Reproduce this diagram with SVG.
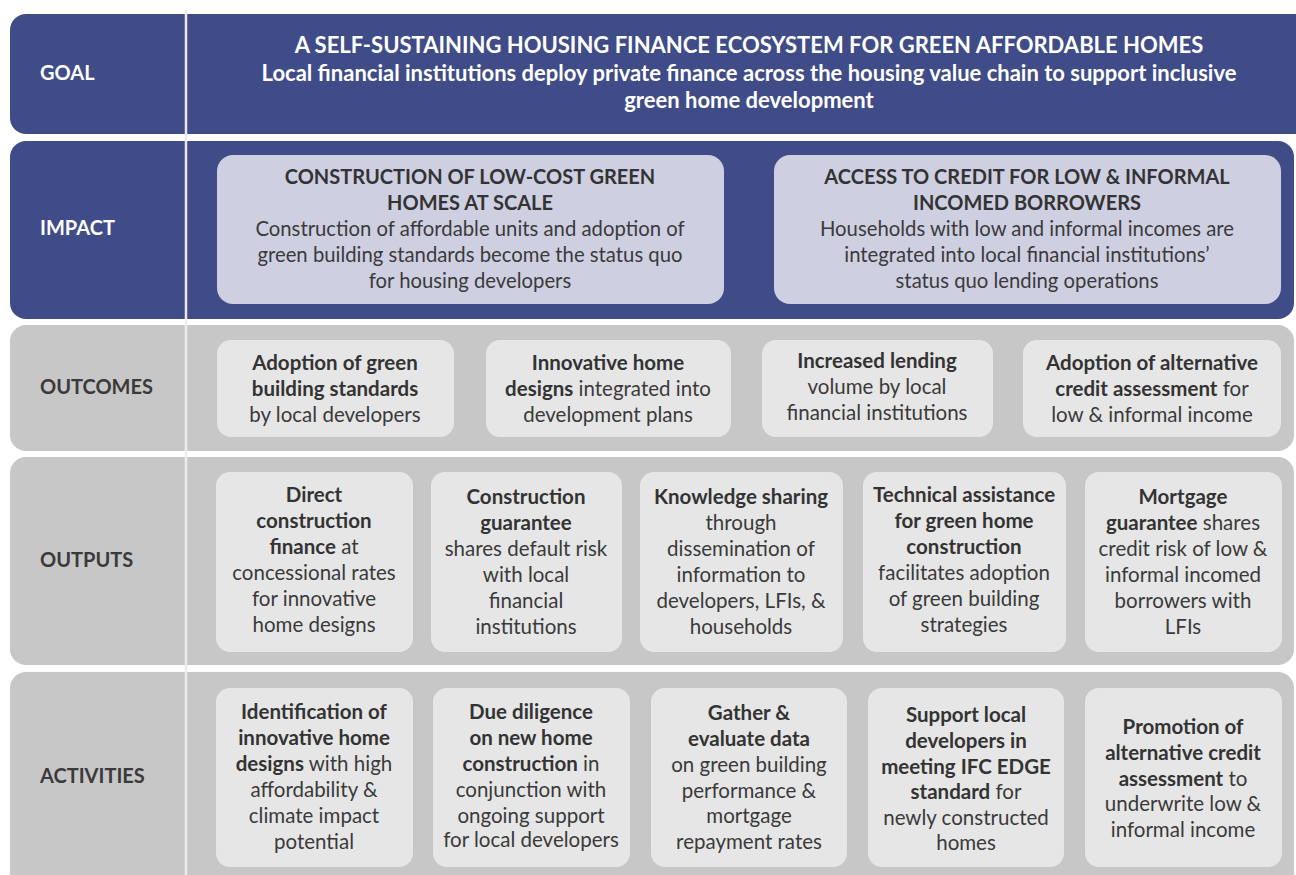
<svg xmlns="http://www.w3.org/2000/svg" width="1296" height="875" viewBox="0 0 1296 875">
<style>
.blue{fill:#3f4c87}
.gray{fill:#c8c7c8}
.ibox{fill:#cfcfe2}
.gbox{fill:#e6e6e6}
text{font-family:Lato,"Open Sans","Liberation Sans",sans-serif;text-anchor:middle}
.lbl{font-size:20px;font-weight:700;text-anchor:start}
.lw{fill:#ffffff}
.ld{fill:#3a3a3a}
.gt{fill:#ffffff;font-size:22px;font-weight:700}
.h{fill:#333333;font-size:20px;font-weight:700}
.ti{fill:#3a3a3a;font-size:20.3px;font-weight:400}
.t{fill:#3a3a3a;font-size:20.5px;font-weight:400}
.b{font-weight:700;fill:#333333}
</style>
<rect width="1296" height="875" fill="#ffffff"/>
<g id="rows">
<rect class="blue" x="10" y="14" width="1300" height="120" rx="16"/>
<rect class="blue" x="10" y="141" width="1284" height="178" rx="16"/>
<rect class="gray" x="10" y="325" width="1284" height="126" rx="16"/>
<rect class="gray" x="10" y="457" width="1284" height="208" rx="16"/>
<rect class="gray" x="10" y="672" width="1284" height="230" rx="16"/>
<line x1="186" y1="10" x2="186" y2="875" stroke="#eceaf0" stroke-width="2.5"/>
</g>
<g id="label-goal"><text class="lbl lw" x="40" y="80">GOAL</text></g>
<g id="label-impact"><text class="lbl lw" x="40" y="235">IMPACT</text></g>
<g id="label-outcomes"><text class="lbl ld" x="40" y="394">OUTCOMES</text></g>
<g id="label-outputs"><text class="lbl ld" x="40" y="567">OUTPUTS</text></g>
<g id="label-activities"><text class="lbl ld" x="40" y="783">ACTIVITIES</text></g>
<g id="goal">
<text class="gt" x="749" y="53">A SELF-SUSTAINING HOUSING FINANCE ECOSYSTEM FOR GREEN AFFORDABLE HOMES</text>
<text class="gt" x="749" y="81">Local financial institutions deploy private finance across the housing value chain to support inclusive</text>
<text class="gt" x="749" y="108">green home development</text>
</g>
<g id="impact-1">
<rect class="ibox" x="217" y="155" width="507" height="149" rx="16"/>
<text class="h" x="470" y="184">CONSTRUCTION OF LOW-COST GREEN</text>
<text class="h" x="470" y="210">HOMES AT SCALE</text>
<text class="ti" x="470" y="236">Construction of affordable units and adoption of</text>
<text class="ti" x="470" y="262">green building standards become the status quo</text>
<text class="ti" x="470" y="288">for housing developers</text>
</g>
<g id="impact-2">
<rect class="ibox" x="774" y="155" width="507" height="149" rx="16"/>
<text class="h" x="1027" y="184">ACCESS TO CREDIT FOR LOW &amp; INFORMAL</text>
<text class="h" x="1027" y="210">INCOMED BORROWERS</text>
<text class="ti" x="1027" y="236">Households with low and informal incomes are</text>
<text class="ti" x="1027" y="262">integrated into local financial institutions’</text>
<text class="ti" x="1027" y="288">status quo lending operations</text>
</g>
<g id="outcome-1">
<rect class="gbox" x="217" y="340" width="237" height="97" rx="14"/>
<text class="t" x="335" y="370"><tspan class="b">Adoption of green</tspan></text>
<text class="t" x="335" y="396"><tspan class="b">building standards</tspan></text>
<text class="t" x="335" y="422">by local developers</text>
</g>
<g id="outcome-2">
<rect class="gbox" x="486" y="340" width="245" height="97" rx="14"/>
<text class="t" x="608" y="370"><tspan class="b">Innovative home</tspan></text>
<text class="t" x="608" y="396"><tspan class="b">designs</tspan> integrated into</text>
<text class="t" x="608" y="422">development plans</text>
</g>
<g id="outcome-3">
<rect class="gbox" x="762" y="340" width="231" height="97" rx="14"/>
<text class="t" x="877" y="368"><tspan class="b">Increased lending</tspan></text>
<text class="t" x="877" y="394">volume by local</text>
<text class="t" x="877" y="420">financial institutions</text>
</g>
<g id="outcome-4">
<rect class="gbox" x="1023" y="340" width="258" height="97" rx="14"/>
<text class="t" x="1152" y="370"><tspan class="b">Adoption of alternative</tspan></text>
<text class="t" x="1152" y="396"><tspan class="b">credit assessment</tspan> for</text>
<text class="t" x="1152" y="422">low &amp; informal income</text>
</g>
<g id="output-1">
<rect class="gbox" x="216" y="472" width="197" height="180" rx="14"/>
<text class="t" x="314" y="502"><tspan class="b">Direct</tspan></text>
<text class="t" x="314" y="528"><tspan class="b">construction</tspan></text>
<text class="t" x="314" y="554"><tspan class="b">finance</tspan> at</text>
<text class="t" x="314" y="580">concessional rates</text>
<text class="t" x="314" y="606">for innovative</text>
<text class="t" x="314" y="632">home designs</text>
</g>
<g id="output-2">
<rect class="gbox" x="431" y="472" width="191" height="180" rx="14"/>
<text class="t" x="526" y="504"><tspan class="b">Construction</tspan></text>
<text class="t" x="526" y="530"><tspan class="b">guarantee</tspan></text>
<text class="t" x="526" y="556">shares default risk</text>
<text class="t" x="526" y="582">with local</text>
<text class="t" x="526" y="608">financial</text>
<text class="t" x="526" y="634">institutions</text>
</g>
<g id="output-3">
<rect class="gbox" x="640" y="472" width="203" height="180" rx="14"/>
<text class="t" x="741" y="504"><tspan class="b">Knowledge sharing</tspan></text>
<text class="t" x="741" y="530">through</text>
<text class="t" x="741" y="556">dissemination of</text>
<text class="t" x="741" y="582">information to</text>
<text class="t" x="741" y="608">developers, LFIs, &amp;</text>
<text class="t" x="741" y="634">households</text>
</g>
<g id="output-4">
<rect class="gbox" x="863" y="472" width="203" height="180" rx="14"/>
<text class="t" x="964" y="502"><tspan class="b">Technical assistance</tspan></text>
<text class="t" x="964" y="528"><tspan class="b">for green home</tspan></text>
<text class="t" x="964" y="554"><tspan class="b">construction</tspan></text>
<text class="t" x="964" y="580">facilitates adoption</text>
<text class="t" x="964" y="606">of green building</text>
<text class="t" x="964" y="632">strategies</text>
</g>
<g id="output-5">
<rect class="gbox" x="1085" y="472" width="197" height="180" rx="14"/>
<text class="t" x="1183" y="504"><tspan class="b">Mortgage</tspan></text>
<text class="t" x="1183" y="530"><tspan class="b">guarantee</tspan> shares</text>
<text class="t" x="1183" y="556">credit risk of low &amp;</text>
<text class="t" x="1183" y="582">informal incomed</text>
<text class="t" x="1183" y="608">borrowers with</text>
<text class="t" x="1183" y="634">LFIs</text>
</g>
<g id="activity-1">
<rect class="gbox" x="216" y="688" width="197" height="179" rx="14"/>
<text class="t" x="314" y="719"><tspan class="b">Identification of</tspan></text>
<text class="t" x="314" y="745"><tspan class="b">innovative home</tspan></text>
<text class="t" x="314" y="771"><tspan class="b">designs</tspan> with high</text>
<text class="t" x="314" y="797">affordability &amp;</text>
<text class="t" x="314" y="823">climate impact</text>
<text class="t" x="314" y="849">potential</text>
</g>
<g id="activity-2">
<rect class="gbox" x="433" y="688" width="197" height="179" rx="14"/>
<text class="t" x="531" y="719"><tspan class="b">Due diligence</tspan></text>
<text class="t" x="531" y="745"><tspan class="b">on new home</tspan></text>
<text class="t" x="531" y="771"><tspan class="b">construction</tspan> in</text>
<text class="t" x="531" y="797">conjunction with</text>
<text class="t" x="531" y="823">ongoing support</text>
<text class="t" x="531" y="847">for local developers</text>
</g>
<g id="activity-3">
<rect class="gbox" x="651" y="688" width="196" height="179" rx="14"/>
<text class="t" x="749" y="720"><tspan class="b">Gather &amp;</tspan></text>
<text class="t" x="749" y="746"><tspan class="b">evaluate data</tspan></text>
<text class="t" x="749" y="772">on green building</text>
<text class="t" x="749" y="798">performance &amp;</text>
<text class="t" x="749" y="823">mortgage</text>
<text class="t" x="749" y="849">repayment rates</text>
</g>
<g id="activity-4">
<rect class="gbox" x="868" y="688" width="196" height="179" rx="14"/>
<text class="t" x="966" y="722"><tspan class="b">Support local</tspan></text>
<text class="t" x="966" y="748"><tspan class="b">developers in</tspan></text>
<text class="t" x="966" y="774"><tspan class="b">meeting IFC EDGE</tspan></text>
<text class="t" x="966" y="799"><tspan class="b">standard</tspan> for</text>
<text class="t" x="966" y="825">newly constructed</text>
<text class="t" x="966" y="850">homes</text>
</g>
<g id="activity-5">
<rect class="gbox" x="1085" y="688" width="197" height="179" rx="14"/>
<text class="t" x="1183" y="734"><tspan class="b">Promotion of</tspan></text>
<text class="t" x="1183" y="760"><tspan class="b">alternative credit</tspan></text>
<text class="t" x="1183" y="786"><tspan class="b">assessment</tspan> to</text>
<text class="t" x="1183" y="811">underwrite low &amp;</text>
<text class="t" x="1183" y="837">informal income</text>
</g>
</svg>
